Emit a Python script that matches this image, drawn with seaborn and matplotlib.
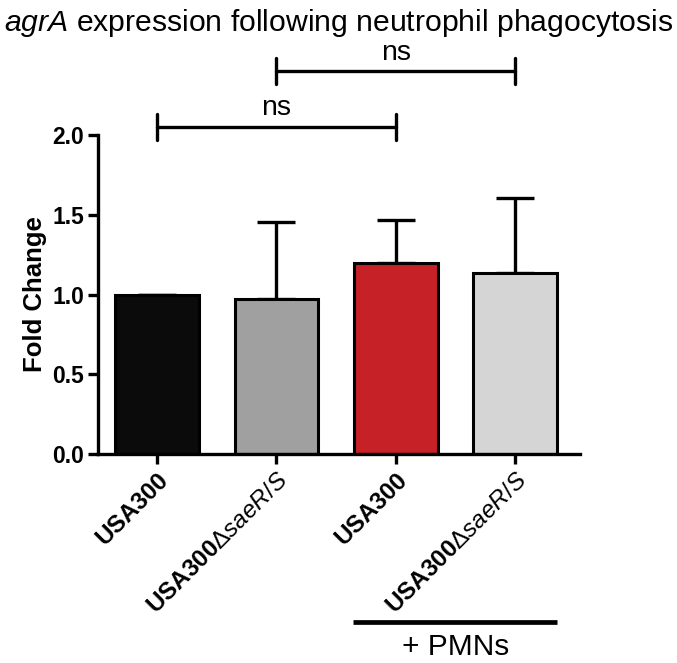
import matplotlib

matplotlib.use('Agg')
import matplotlib.pyplot as plt
import seaborn as sns
import numpy as np

# Data
groups = ['USA300', 'USA300dsaeRS', 'USA300 +PMN', 'USA300dsaeRS +PMN']
tick_labels = ['USA300', r'USA300$\Delta\mathit{saeR/S}$',
               'USA300', r'USA300$\Delta\mathit{saeR/S}$']
fold_change = [1.00, 0.97, 1.20, 1.135]
error_up = [0.0, 0.485, 0.27, 0.47]
bar_colors = ['#0b0b0b', '#a0a0a0', '#c62127', '#d5d5d5']
brackets = [(0, 2, 'ns'), (1, 3, 'ns')]

sns.set_style('ticks')
plt.rcParams['font.family'] = ['Liberation Sans', 'DejaVu Sans']
plt.rcParams['mathtext.fontset'] = 'custom'
plt.rcParams['mathtext.rm'] = 'Liberation Sans'
plt.rcParams['mathtext.it'] = 'Liberation Sans:italic'
plt.rcParams['text.color'] = 'black'
plt.rcParams['axes.labelcolor'] = 'black'
plt.rcParams['xtick.color'] = 'black'
plt.rcParams['ytick.color'] = 'black'
plt.rcParams['axes.edgecolor'] = 'black'

fig = plt.figure(figsize=(6.77, 6.63), dpi=100)
ax = fig.add_axes([0.1448, 0.3152, 0.7122, 0.4812])

sns.barplot(x=groups, y=fold_change, hue=groups, palette=bar_colors, legend=False,
            saturation=1, edgecolor='black', linewidth=2.2, width=0.7, ax=ax)
ax.errorbar(np.arange(len(groups)), fold_change, yerr=[np.zeros(len(groups)), error_up],
            fmt='none', ecolor='black', elinewidth=2.4, capsize=14, capthick=2.4, zorder=0)

ax.set_ylim(0, 2.0)
ax.set_xlim(-0.494, 3.545)
ax.set_yticks([0.0, 0.5, 1.0, 1.5, 2.0])
ax.set_yticklabels(['0.0', '0.5', '1.0', '1.5', '2.0'], fontsize=16.5, fontweight='bold')
ax.set_xticks(range(len(groups)))
ax.set_xticklabels(tick_labels, rotation=45, ha='right', rotation_mode='anchor',
                   fontsize=17.5, fontweight='bold')
ax.set_ylabel('Fold Change', fontsize=18.5, fontweight='bold', labelpad=4)
ax.set_xlabel('')
sns.despine(ax=ax)
for side in ['left', 'bottom']:
    ax.spines[side].set_linewidth(2.4)
ax.tick_params(axis='both', width=2.4, length=7, pad=3)

# significance brackets
for (a, b, txt), y in zip(brackets, [2.05, 2.40]):
    ax.plot([a, b], [y, y], color='black', lw=2.4, clip_on=False)
    for xx in (a, b):
        ax.plot([xx, xx], [y - 0.08, y + 0.08], color='black', lw=2.4, clip_on=False)
    ax.text((a + b) / 2, y + 0.035, txt, ha='center', va='bottom', fontsize=20.5)

# + PMNs group line
ax.plot([1.642, 3.352], [-1.053, -1.053], color='black', lw=3.4, clip_on=False,
        solid_capstyle='butt')
ax.text(2.5, -1.125, '+ PMNs', ha='center', va='top', fontsize=21.5)

fig.text(0.5, 0.965, r'$\mathit{agrA}$ expression following neutrophil phagocytosis',
         ha='center', va='center', fontsize=21.7)

fig.savefig('out.png', dpi=100)
